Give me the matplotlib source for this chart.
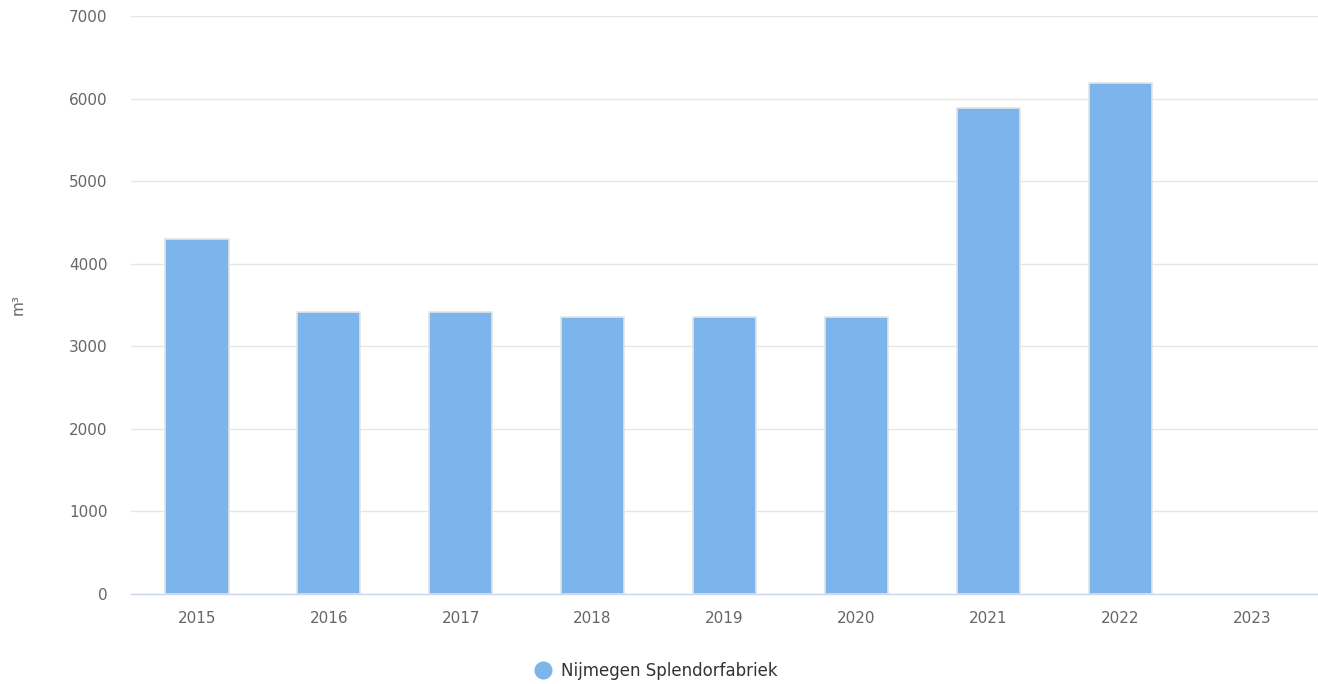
import matplotlib
matplotlib.use("Agg")
import matplotlib.pyplot as plt
from matplotlib.lines import Line2D
import numpy as np

years = ["2015", "2016", "2017", "2018", "2019", "2020", "2021", "2022", "2023"]
volumes = [4300, 3420, 3420, 3355, 3355, 3355, 5880, 6190, np.nan]
series_name = "Nijmegen Splendorfabriek"
y_ticks = [0, 1000, 2000, 3000, 4000, 5000, 6000, 7000]

bar_color = "#7cb5ec"
grid_color = "#e6e6e6"
label_color = "#666666"

fig = plt.figure(figsize=(13.18, 6.84), dpi=100)
ax = fig.add_axes([131 / 1318, 1 - 594 / 684, 1 - 131 / 1318, (594 - 16) / 684])

x = np.arange(len(years))
ax.bar(x, volumes, width=0.48, color=bar_color, edgecolor="#e4e4e4",
       linewidth=1.2, zorder=3)

ax.set_xlim(-0.5, len(years) - 0.5)
ax.set_ylim(0, 7000)
ax.set_yticks(y_ticks)
ax.set_yticklabels([str(t) for t in y_ticks])
ax.set_xticks(x)
ax.set_xticklabels(years)

ax.grid(axis="y", color=grid_color, linewidth=1, zorder=0)
ax.set_axisbelow(True)
for side in ["top", "right", "left"]:
    ax.spines[side].set_visible(False)
ax.spines["bottom"].set_color("#ccd6eb")
ax.spines["bottom"].set_linewidth(1)
ax.spines["bottom"].set_zorder(4)

ax.tick_params(axis="y", length=0, pad=17, labelsize=11, labelcolor=label_color)
ax.tick_params(axis="x", length=0, pad=12, labelsize=11, labelcolor=label_color)

fig.text(18 / 1318, 1 - 305 / 684, "m³", rotation=90, ha="center", va="center",
         fontsize=11, color=label_color)

# legend entry: round marker followed by the series name
handle = Line2D([], [], marker="o", linestyle="", markersize=12,
                markerfacecolor=bar_color, markeredgecolor=bar_color)
fig.legend([handle], [series_name], loc="center", bbox_to_anchor=(0.497, 1 - 671 / 684),
           frameon=False, fontsize=12, labelcolor="#333333", handletextpad=0.5,
           handlelength=1.2)

fig.savefig("out.png", dpi=100)
